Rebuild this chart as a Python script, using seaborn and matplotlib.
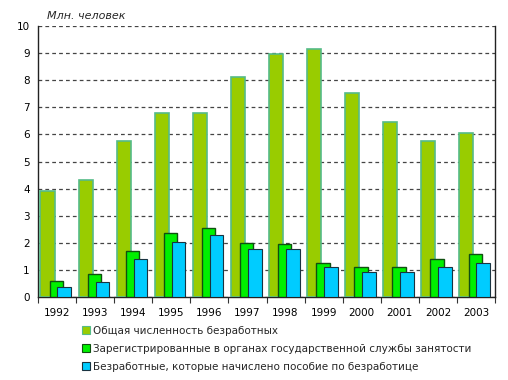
import matplotlib
matplotlib.use("Agg")
import matplotlib.pyplot as plt
import seaborn as sns
import numpy as np
import pandas as pd
from matplotlib.patches import Patch
from matplotlib.ticker import MultipleLocator, FixedLocator

years = [1992, 1993, 1994, 1995, 1996, 1997, 1998, 1999, 2000, 2001, 2002, 2003]
total = [3.9, 4.33, 5.75, 6.79, 6.79, 8.1, 8.95, 9.14, 7.53, 6.44, 5.74, 6.04]
registered = [0.6, 0.85, 1.68, 2.35, 2.53, 2.01, 1.94, 1.27, 1.1, 1.1, 1.4, 1.6]
benefit = [0.36, 0.54, 1.4, 2.03, 2.28, 1.77, 1.78, 1.1, 0.91, 0.91, 1.1, 1.27]
labels = ["Общая численность безработных",
          "Зарегистрированные в органах государственной службы занятости",
          "Безработные, которые начислено пособие по безработице"]
ylabel = "Млн. человек"

sns.set_theme(style="white")
plt.rcParams['font.family'] = ['DejaVu Sans']

fig = plt.figure(figsize=(5.08, 3.8), dpi=100)
ax = fig.add_axes([38/508, 1-297/380, (495-38)/508, (297-26)/380])

series = [
    (total, -0.25, 0.37, "#99CC00", "#55BB88", 1.2),
    (registered, -0.02, 0.35, "#00F000", "#105010", 1.0),
    (benefit, 0.19, 0.36, "#00CCFF", "#1a3340", 0.8),
]
yrs = np.array(years, dtype=float)
for vals, off, w, fc, ec, lw in series:
    df = pd.DataFrame({"x": yrs + off, "y": vals})
    sns.barplot(data=df, x="x", y="y", native_scale=True, width=w,
                color=fc, saturation=1, edgecolor=ec, linewidth=lw, ax=ax, zorder=3)

ax.set_xlim(years[0] - 0.5, years[-1] + 0.5)
ax.set_ylim(0, 10)
ax.yaxis.set_major_locator(MultipleLocator(1))
ax.set_xticks(years)
ax.set_xticklabels([str(y) for y in years])
ax.xaxis.set_minor_locator(FixedLocator([y - 0.5 for y in years] + [years[-1] + 0.5]))
ax.tick_params(axis="x", which="major", length=0, pad=8, labelsize=7.5, colors="black")
ax.tick_params(axis="x", which="minor", length=4, width=0.8, color="#333333", bottom=True, direction="out")
ax.tick_params(axis="y", length=0, pad=6, labelsize=7.5, colors="black")
ax.set_xlabel("")
ax.set_ylabel("")
ax.grid(axis="y", linestyle=(0, (3, 2.5)), color="#444444", linewidth=0.9, zorder=0)
ax.set_axisbelow(True)
for s in ["left", "bottom", "right"]:
    ax.spines[s].set_color("#222222")
    ax.spines[s].set_linewidth(1.0)
    ax.spines[s].set_visible(True)
ax.spines["top"].set_visible(False)

fig.text(47/508, 1-16/380, ylabel, fontsize=8, style="italic", va="center", ha="left")

handles = [Patch(facecolor=c, edgecolor=e, linewidth=0.8) for _, _, _, c, e, _ in series]
leg = fig.legend(handles, labels, loc="upper left", bbox_to_anchor=(82/508, 1-326/380),
                 frameon=False, fontsize=7.5, handlelength=0.8, handleheight=0.8,
                 handletextpad=0.3, labelspacing=0.75, borderpad=0, borderaxespad=0)

fig.savefig("out.png", dpi=100)
